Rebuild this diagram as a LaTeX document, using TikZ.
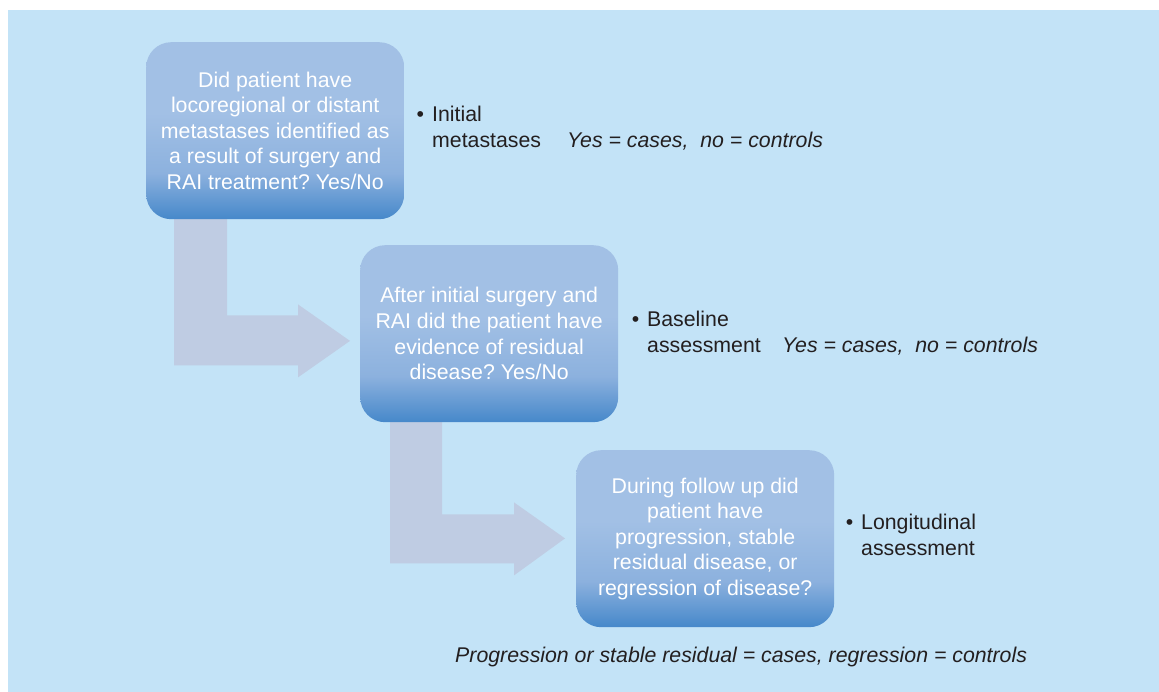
\documentclass[tikz,border=0pt]{standalone}
\usepackage{fontspec}
\setmainfont{Liberation Sans}
\usetikzlibrary{calc,backgrounds}
\frenchspacing
\definecolor{bgblue}{HTML}{C3E3F7}
\definecolor{arrowgray}{HTML}{BFCCE3}
\definecolor{boxtop}{HTML}{A2C0E5}
\definecolor{boxmid}{HTML}{8CB1DE}
\definecolor{boxbot}{HTML}{4688CA}
\definecolor{txtdark}{HTML}{231F20}
\pgfdeclareverticalshading{boxshade}{100bp}{color(0bp)=(boxbot); color(25bp)=(boxbot); color(38bp)=(boxmid); color(55bp)=(boxtop); color(100bp)=(boxtop)}
\tikzset{
  question/.style={shading=boxshade, rounded corners=25pt, minimum width=258pt, minimum height=177pt,
    align=center, text=white, font=\fontsize{21.3}{25.6}\selectfont, inner sep=0pt},
  bulletlbl/.style={anchor=base west, align=left, text=txtdark, font=\fontsize{21.3}{26}\selectfont, inner sep=0pt},
  outcome/.style={anchor=base west, text=txtdark, font=\fontsize{21.3}{26}\selectfont\itshape, inner sep=0pt},
  blockarrow/.style={fill=arrowgray, draw=none}
}
\begin{document}
\begin{tikzpicture}[x=1pt,y=-1pt]
\useasboundingbox (0,0) rectangle (1159,692);

\node[question, anchor=north west] (q1) at (146,42) {Did patient have\\locoregional or distant\\metastases identified as\\a result of surgery and\\RAI treatment? Yes/No};
\node[question, anchor=north west] (q2) at (360,245) {After initial surgery and\\RAI did the patient have\\evidence of residual\\disease? Yes/No};
\node[question, anchor=north west] (q3) at (576,450) {During follow up did\\patient have\\progression, stable\\residual disease, or\\regression of disease?};

\begin{scope}[on background layer]
\fill[bgblue] (8,10) rectangle (1159,692);
% block arrows from box to box
\fill[blockarrow] ($(q1.south west)+(28,-20)$) -- ++(53,0) -- ++(0,116) -- ++(71,0) -- ++(0,-11)
  -- ++(52,36.5) -- ++(-52,36.5) -- ++(0,-12) -- ++(-124,0) -- cycle;
\fill[blockarrow] ($(q2.south west)+(30,-12)$) -- ++(52,0) -- ++(0,104) -- ++(72,0) -- ++(0,-12)
  -- ++(51,36) -- ++(-51,37) -- ++(0,-12) -- ++(-124,0) -- cycle;
\end{scope}

\node[bulletlbl] (l1) at (432,148) {\llap{•\hspace{8pt}}Initial\\metastases};
\node[outcome] (y1) at (567,148) {Yes = cases,\ \ no = controls};
\node[bulletlbl] (l2) at (647,353) {\llap{•\hspace{8pt}}Baseline\\assessment};
\node[outcome] (y2) at (782,353) {Yes = cases,\ \ no = controls};
\node[bulletlbl] (l3) at (861,555) {\llap{•\hspace{8pt}}Longitudinal\\assessment};
\node[outcome] (foot) at (455,662) {Progression or stable residual = cases, regression = controls};
\end{tikzpicture}
\end{document}
